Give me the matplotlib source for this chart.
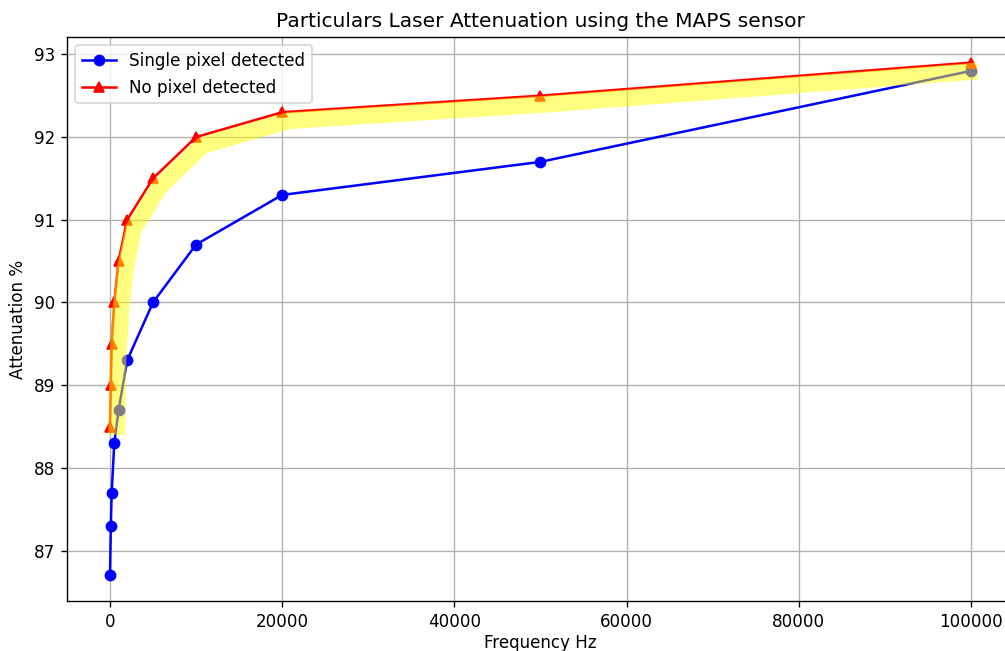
import matplotlib
matplotlib.use("Agg")
import matplotlib.pyplot as plt
import matplotlib.transforms as mtransforms

# frequencies (Hz) and attenuation (%)
freq = [10, 100, 200, 500, 1000, 2000, 5000, 10000, 20000, 50000, 100000]
single_pixel = [86.7, 87.3, 87.7, 88.3, 88.7, 89.3, 90.0, 90.7, 91.3, 91.7, 92.8]
no_pixel = [88.5, 89.0, 89.5, 90.0, 90.5, 91.0, 91.5, 92.0, 92.3, 92.5, 92.9]

DPI = 121
fig = plt.figure(figsize=(1006 / DPI, 651 / DPI), dpi=DPI)
ax = fig.add_axes([0.0666, 0.0768, 0.9414, 0.8664])

ax.plot(freq, single_pixel, marker='o', color='blue', label='Single pixel detected')
ax.plot(freq, no_pixel, marker='^', color='red', label='No pixel detected')

# yellow highlight band just under the red curve
band_tr = mtransforms.offset_copy(ax.transData, fig=fig, x=3.9, y=-5.0, units='points')
ax.plot(freq, no_pixel, color='yellow', alpha=0.5, linewidth=10,
        solid_capstyle='butt', transform=band_tr)

ax.set_title('Particulars Laser Attenuation using the MAPS sensor')
ax.set_xlabel('Frequency Hz', labelpad=2)
ax.set_ylabel('Attenuation %')
ax.legend(loc='upper left')
ax.grid(True)

fig.savefig('out.png', dpi=DPI)
